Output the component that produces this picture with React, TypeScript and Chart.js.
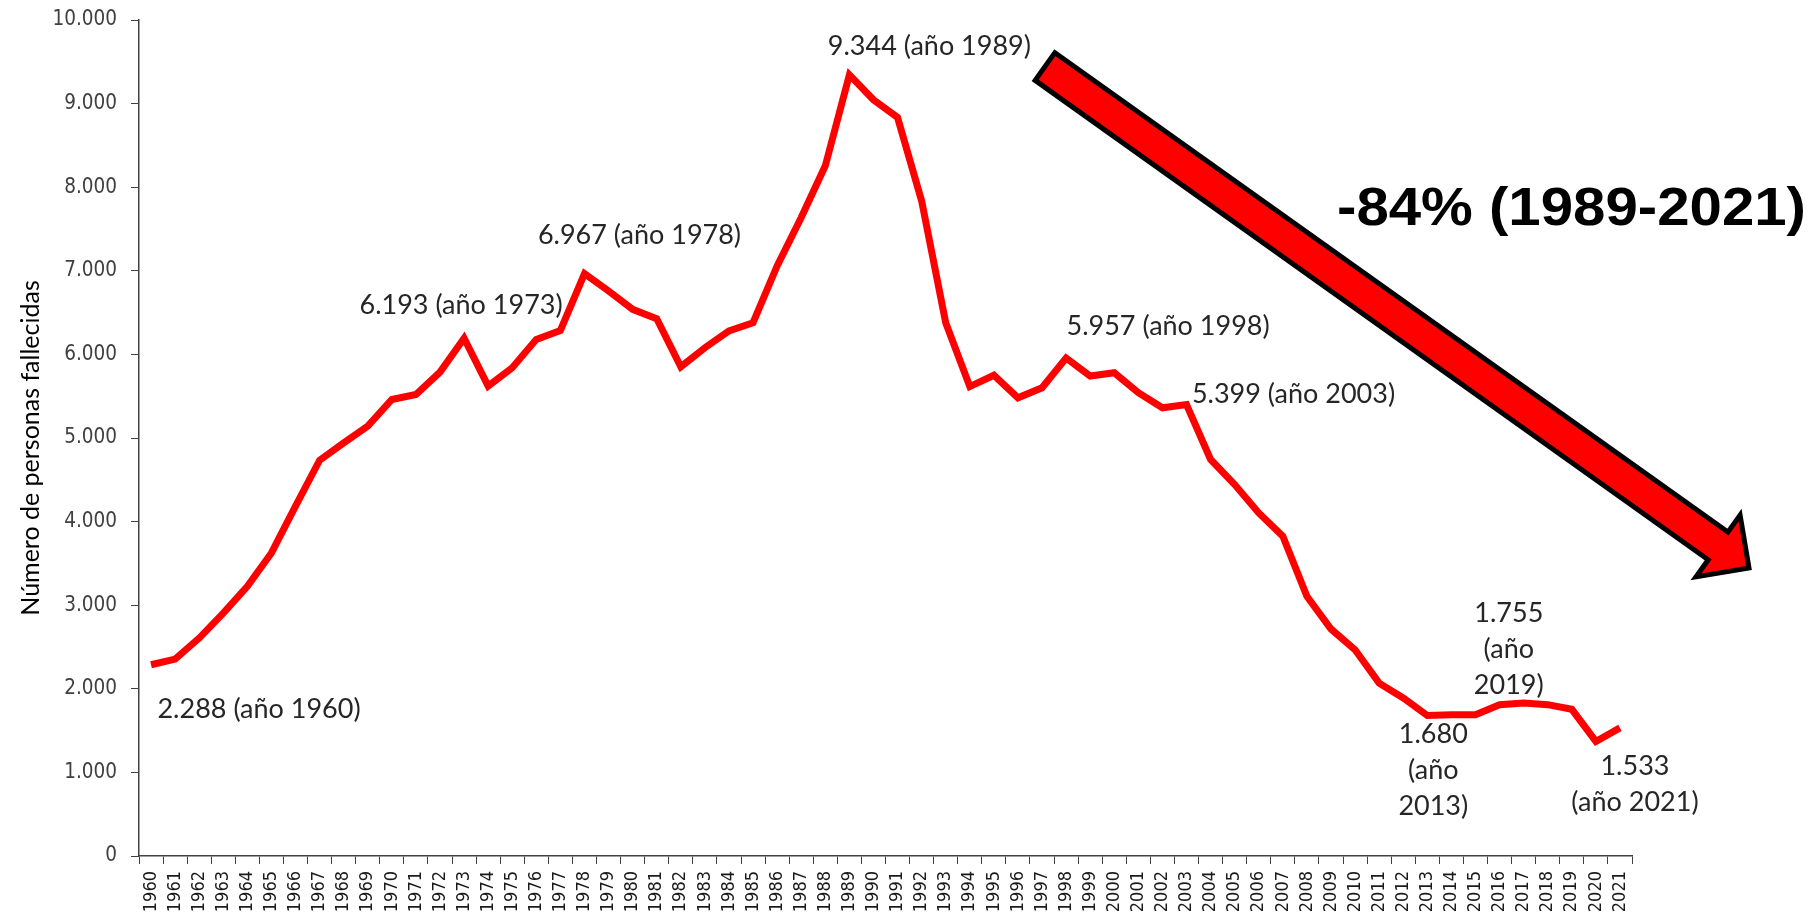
import React, { useEffect, useRef } from 'react';
import { Chart, registerables } from 'chart.js';

Chart.register(...registerables);

// ---------- DATA ----------
const years = [
  '1960', '1961', '1962', '1963', '1964', '1965', '1966', '1967', '1968', '1969',
  '1970', '1971', '1972', '1973', '1974', '1975', '1976', '1977', '1978', '1979',
  '1980', '1981', '1982', '1983', '1984', '1985', '1986', '1987', '1988', '1989',
  '1990', '1991', '1992', '1993', '1994', '1995', '1996', '1997', '1998', '1999',
  '2000', '2001', '2002', '2003', '2004', '2005', '2006', '2007', '2008', '2009',
  '2010', '2011', '2012', '2013', '2014', '2015', '2016', '2017', '2018', '2019',
  '2020', '2021',
];

const fallecidos = [
  2288, 2356, 2607, 2906, 3226, 3625, 4184, 4734, 4942, 5142,
  5461, 5521, 5788, 6193, 5621, 5840, 6180, 6287, 6967, 6759,
  6539, 6427, 5852, 6080, 6280, 6379, 7058, 7637, 8256, 9344,
  9046, 8834, 7836, 6379, 5615, 5751, 5481, 5601, 5957, 5741,
  5780, 5541, 5361, 5399, 4743, 4443, 4104, 3824, 3106, 2715,
  2467, 2068, 1890, 1680, 1690, 1690, 1810, 1830, 1810, 1755,
  1370, 1533,
];

const yTickMin = 0;
const yTickMax = 10000;
const yTickStep = 1000;

const annotationYears = ['1960', '1973', '1978', '1989', '1998', '2003', '2013', '2019', '2021'];
const annotationTexts = [
  ['2.288 (año 1960)'],
  ['6.193 (año 1973)'],
  ['6.967 (año 1978)'],
  ['9.344 (año 1989)'],
  ['5.957 (año 1998)'],
  ['5.399 (año 2003)'],
  ['1.680', '(año', '2013)'],
  ['1.755', '(año', '2019)'],
  ['1.533', '(año 2021)'],
];

const trendText = '-84% (1989-2021)';
const yAxisTitle = 'Número de personas fallecidas';

// ---------- LAYOUT / STYLE ----------
const W = 1814;
const H = 919;
const annotationOffsets = [
  [108, 45], [-3, -33], [55, -38], [80, -29], [102, -32], [107, -10], [6, 19], [-63, -96], [15, 38],
];
const annotationLineHeight = 36;
const annotationFont = '27px Lato, "Open Sans", sans-serif';
const annotationColor = '#262626';

const arrowTail = [1045, 66.5];
const arrowTip = [1749, 568];
const arrowShaftHalf = 17;
const arrowHeadHalf = 38;
const arrowHeadLen = 38;

const tickFamily = '"DejaVu Sans Condensed", "DejaVu Sans", Verdana, sans-serif';

const fmt = (v: number) => String(v).replace(/\B(?=(\d{3})+(?!\d))/g, '.');

const overlayPlugin = {
  id: 'overlay',
  afterDatasetsDraw(chart: any) {
    const ctx: CanvasRenderingContext2D = chart.ctx;
    const xs = chart.scales.x;
    const ys = chart.scales.y;
    ctx.save();

    // Arrow
    const [tx, ty] = arrowTail;
    const [px, py] = arrowTip;
    const L = Math.hypot(px - tx, py - ty);
    const ux = (px - tx) / L;
    const uy = (py - ty) / L;
    const nx = -uy;
    const ny = ux;
    const jx = px - arrowHeadLen * ux;
    const jy = py - arrowHeadLen * uy;
    ctx.beginPath();
    ctx.moveTo(tx + arrowShaftHalf * nx, ty + arrowShaftHalf * ny);
    ctx.lineTo(jx + arrowShaftHalf * nx, jy + arrowShaftHalf * ny);
    ctx.lineTo(jx + arrowHeadHalf * nx, jy + arrowHeadHalf * ny);
    ctx.lineTo(px, py);
    ctx.lineTo(jx - arrowHeadHalf * nx, jy - arrowHeadHalf * ny);
    ctx.lineTo(jx - arrowShaftHalf * nx, jy - arrowShaftHalf * ny);
    ctx.lineTo(tx - arrowShaftHalf * nx, ty - arrowShaftHalf * ny);
    ctx.closePath();
    ctx.fillStyle = '#FF0000';
    ctx.fill();
    ctx.lineWidth = 5;
    ctx.lineJoin = 'miter';
    ctx.strokeStyle = '#000000';
    ctx.stroke();

    // Annotations
    ctx.font = annotationFont;
    ctx.fillStyle = annotationColor;
    ctx.textAlign = 'center';
    ctx.textBaseline = 'middle';
    annotationYears.forEach((yr, k) => {
      const idx = years.indexOf(yr);
      const x = xs.getPixelForValue(idx);
      const y = ys.getPixelForValue(fallecidos[idx]);
      const [dx, dy] = annotationOffsets[k];
      annotationTexts[k].forEach((line, j) => {
        ctx.fillText(line, x + dx, y + dy + j * annotationLineHeight);
      });
    });

    // Trend text
    ctx.save();
    ctx.font = 'bold 54px "Liberation Sans", Arial, sans-serif';
    const tw = ctx.measureText(trendText).width;
    ctx.translate(1337, 225);
    ctx.scale(469 / tw, 1);
    ctx.textAlign = 'left';
    ctx.textBaseline = 'alphabetic';
    ctx.fillStyle = '#000000';
    ctx.fillText(trendText, 0, 0);
    ctx.restore();

    // Y axis title
    ctx.save();
    ctx.translate(31, 448);
    ctx.rotate(-Math.PI / 2);
    ctx.font = '25px Lato, "Open Sans", sans-serif';
    ctx.fillStyle = '#000000';
    ctx.textAlign = 'center';
    ctx.textBaseline = 'middle';
    ctx.fillText(yAxisTitle, 0, 0);
    ctx.restore();

    ctx.restore();
  },
};

export default function App() {
  const canvasRef = useRef<HTMLCanvasElement | null>(null);

  useEffect(() => {
    if (!canvasRef.current) return;
    const chart = new Chart(canvasRef.current, {
      type: 'line',
      data: {
        labels: years,
        datasets: [
          {
            data: fallecidos,
            borderColor: '#FF0000',
            backgroundColor: '#FF0000',
            borderWidth: 7,
            pointRadius: 0,
            tension: 0,
            fill: false,
          },
        ],
      },
      options: {
        responsive: true,
        maintainAspectRatio: false,
        animation: false,
        layout: { padding: { top: 20, right: 182, left: 0, bottom: 0 } },
        plugins: {
          legend: { display: false },
          tooltip: { enabled: false },
          title: { display: false },
        },
        scales: {
          x: {
            type: 'category',
            offset: true,
            grid: {
              offset: true,
              drawOnChartArea: false,
              drawTicks: true,
              tickLength: 8,
              color: '#404040',
              lineWidth: 1,
            },
            border: { display: true, color: '#404040', width: 1.5 },
            ticks: {
              autoSkip: false,
              maxRotation: 90,
              minRotation: 90,
              padding: 7,
              color: '#1a1a1a',
              font: { family: tickFamily, size: 18 },
            },
            afterFit: (scale: any) => {
              scale.height = 63;
            },
          },
          y: {
            min: yTickMin,
            max: yTickMax,
            grid: {
              drawOnChartArea: false,
              drawTicks: true,
              tickLength: 8,
              color: '#404040',
              lineWidth: 1,
            },
            border: { display: true, color: '#404040', width: 1.5 },
            ticks: {
              stepSize: yTickStep,
              padding: 14,
              color: '#404040',
              font: { family: tickFamily, size: 20.5 },
              callback: (v: any) => fmt(Number(v)),
            },
            afterFit: (scale: any) => {
              scale.width = 139;
              scale.paddingTop = 10;
              scale.paddingBottom = 10;
            },
          },
        },
      },
      plugins: [overlayPlugin],
    });
    return () => chart.destroy();
  }, []);

  return (
    <div style={{ position: 'fixed', left: 0, top: 0, width: W, height: H, background: '#ffffff' }}>
      <canvas ref={canvasRef} />
    </div>
  );
}
